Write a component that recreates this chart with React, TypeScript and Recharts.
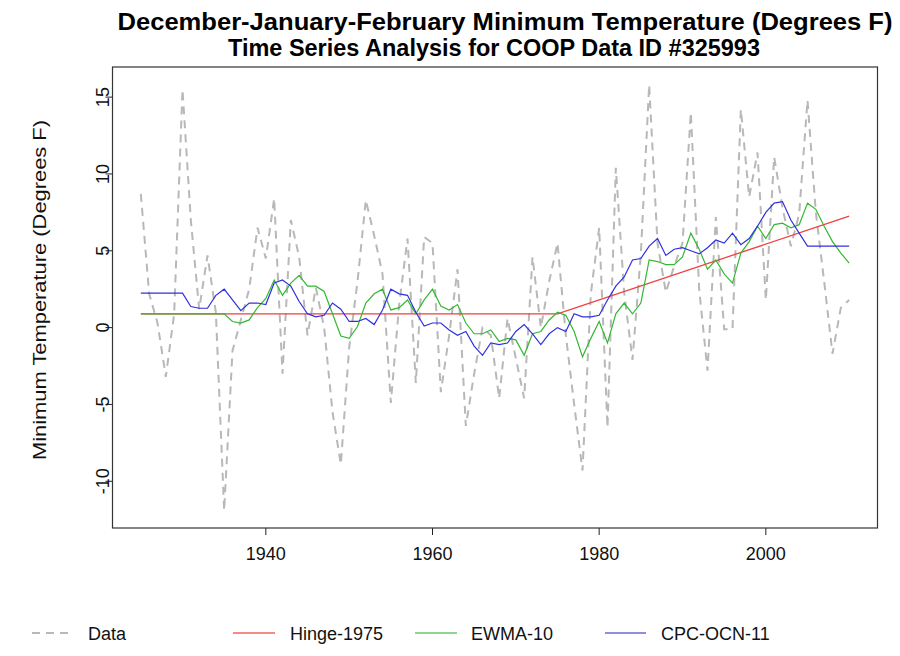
import React from 'react';
import { LineChart, Line, XAxis, YAxis } from 'recharts';

// winter (DJF) minimum temperature, COOP station 325993
const years = [
  1925, 1926, 1927, 1928, 1929, 1930, 1931, 1932, 1933, 1934,
  1935, 1936, 1937, 1938, 1939, 1940, 1941, 1942, 1943, 1944,
  1945, 1946, 1947, 1948, 1949, 1950, 1951, 1952, 1953, 1954,
  1955, 1956, 1957, 1958, 1959, 1960, 1961, 1962, 1963, 1964,
  1965, 1966, 1967, 1968, 1969, 1970, 1971, 1972, 1973, 1974,
  1975, 1976, 1977, 1978, 1979, 1980, 1981, 1982, 1983, 1984,
  1985, 1986, 1987, 1988, 1989, 1990, 1991, 1992, 1993, 1994,
  1995, 1996, 1997, 1998, 1999, 2000, 2001, 2002, 2003, 2004,
  2005, 2006, 2007, 2008, 2009, 2010,
];

const observed = [
  8.7, 2.2, 0.3, -3.2, 0.9, 15.5, 7.0, 1.2, 4.7, 1.0,
  -11.9, -1.5, 0.5, 2.5, 6.5, 4.5, 8.4, -3.0, 7.0, 4.6,
  -0.5, 2.6, 0.0, -5.5, -8.9, -1.3, 3.0, 8.3, 6.0, 3.5,
  -4.9, 1.5, 5.8, -3.6, 5.9, 5.5, -4.2, -0.5, 3.8, -6.4,
  -3.0, 0.0, -0.5, -4.6, 0.6, -2.0, -4.6, 4.6, 0.0, 3.0,
  5.5, -0.5, -5.0, -9.3, 2.2, 6.5, -6.5, 10.4, 2.3, -2.1,
  4.8, 15.8, 5.5, 2.3, 4.0, 5.5, 14.0, 2.5, -2.8, 7.2,
  -0.1, -0.1, 14.2, 8.5, 11.4, 1.8, 11.1, 7.8, 5.3, 7.4,
  14.8, 7.5, 3.0, -1.7, 1.3, 1.8,
];

const ewma10 = [
  0.9, 0.9, 0.9, 0.9, 0.9, 0.9, 0.9, 0.9, 0.9, 0.9,
  0.9, 0.4, 0.3, 0.5, 1.3, 1.9, 3.1, 2.1, 2.9, 3.4,
  2.7, 2.7, 2.35, 0.9, -0.55, -0.7, 0.07, 1.6, 2.2, 2.5,
  1.15, 1.3, 1.8, 0.9, 1.8, 2.5, 1.4, 1.15, 1.5, 0.3,
  -0.4, -0.4, -0.15, -0.9, -0.7, -0.8, -1.8, -0.4, -0.25, 0.5,
  1.0, 0.8, -0.25, -1.9, -0.7, 0.4, -1.0, 0.9, 1.6, 0.9,
  1.6, 4.4, 4.3, 4.1, 4.1, 4.6, 6.15, 5.1, 3.8, 4.4,
  3.5, 2.9, 4.85, 5.6, 6.6, 5.8, 6.7, 6.8, 6.5, 6.7,
  8.1, 7.7, 6.6, 5.6, 4.85, 4.2,
];

const ocn11 = [
  2.24, 2.24, 2.24, 2.24, 2.24, 2.24, 1.37, 1.26, 1.26, 2.1,
  2.5, 1.8, 1.1, 1.6, 1.6, 1.5, 2.9, 3.1, 2.7, 1.7,
  0.9, 0.7, 0.8, 1.6, 1.2, 0.4, 0.4, 0.6, 0.2, 1.15,
  2.5, 2.2, 2.1, 1.0, 0.1, 0.3, 0.3, -0.15, -0.5, -0.25,
  -1.2, -1.8, -1.0, -1.1, -1.0, -0.25, 0.2, -0.4, -1.1, -0.4,
  0.0, -0.25, 0.9, 0.7, 0.7, 0.8, 1.8, 2.7, 3.3, 4.4,
  4.5, 5.3, 5.8, 4.7, 5.1, 5.2, 5.0, 4.8, 5.2, 5.7,
  5.5, 6.15, 5.4, 5.8, 6.6, 7.5, 8.1, 8.2, 7.0, 6.15,
  5.3, 5.3, 5.3, 5.3, 5.3, 5.3,
];

// hinge fit: flat until 1975, then a straight trend
const hingeYears = [1925, 1975, 2010];
const hingeValues = [0.9, 0.9, 7.25];

const xTicks = [1940, 1960, 1980, 2000];
const yTicks = [-10, -5, 0, 5, 10, 15];

const chartData = years.map((year, i) => {
  const h = hingeYears.indexOf(year);
  return {
    year,
    data: observed[i],
    ewma: ewma10[i],
    ocn: ocn11[i],
    hinge: h >= 0 ? hingeValues[h] : null,
  };
});

const FONT = '"Liberation Sans", Arial, Helvetica, sans-serif';
const LABEL_SIZE = 18;

const BOX = { left: 112.5, right: 877.5, top: 67, bottom: 528 };

const XTick = ({ x, payload }: any) => (
  <g>
    <line x1={x} x2={x} y1={BOX.bottom} y2={BOX.bottom + 7} stroke="#222" />
    <text x={x} y={560} textAnchor="middle" fontSize={LABEL_SIZE} fontFamily={FONT} fill="#111">
      {payload.value}
    </text>
  </g>
);

const YTick = ({ y, payload }: any) => (
  <g>
    <line x1={BOX.left - 7} x2={BOX.left} y1={y} y2={y} stroke="#222" />
    <text
      x={0}
      y={0}
      transform={`translate(109, ${y}) rotate(-90)`}
      textAnchor="middle"
      fontSize={LABEL_SIZE}
      fontFamily={FONT}
      fill="#111"
    >
      {payload.value}
    </text>
  </g>
);

const legendItems = [
  { label: 'Data', color: '#b8b8b8', dash: '8 6', x1: 32, x2: 68, tx: 88 },
  { label: 'Hinge-1975', color: '#f28a8a', dash: undefined, x1: 233, x2: 275, tx: 290 },
  { label: 'EWMA-10', color: '#8fd68f', dash: undefined, x1: 415, x2: 457, tx: 471 },
  { label: 'CPC-OCN-11', color: '#8f8fe0', dash: undefined, x1: 605, x2: 646, tx: 661 },
];

export default function App() {
  return (
    <div style={{ position: 'absolute', left: 0, top: 0, width: 900, height: 656, background: '#fff' }}>
      <LineChart
        width={900}
        height={656}
        data={chartData}
        margin={{ top: BOX.top, right: 900 - BOX.right, bottom: 656 - BOX.bottom - 30, left: BOX.left - 60 }}
      >
        <XAxis
          dataKey="year"
          type="number"
          domain={[1921.6, 2013.4]}
          ticks={xTicks}
          allowDataOverflow
          axisLine={false}
          tickLine={false}
          height={30}
          tick={<XTick />}
        />
        <YAxis
          type="number"
          domain={[-13.04, 16.96]}
          ticks={yTicks}
          allowDataOverflow
          axisLine={false}
          tickLine={false}
          width={60}
          tick={<YTick />}
        />
        <Line
          dataKey="data"
          stroke="#b8b8b8"
          strokeWidth={2}
          strokeDasharray="8 6"
          dot={false}
          isAnimationActive={false}
        />
        <Line
          dataKey="hinge"
          stroke="#f04040"
          strokeWidth={1.3}
          dot={false}
          connectNulls
          isAnimationActive={false}
        />
        <Line dataKey="ewma" stroke="#33b833" strokeWidth={1.2} dot={false} isAnimationActive={false} />
        <Line dataKey="ocn" stroke="#3030e0" strokeWidth={1.2} dot={false} isAnimationActive={false} />
      </LineChart>
      <svg
        width={900}
        height={656}
        style={{ position: 'absolute', left: 0, top: 0, pointerEvents: 'none' }}
        fontFamily={FONT}
      >
        <rect
          x={BOX.left}
          y={BOX.top}
          width={BOX.right - BOX.left}
          height={BOX.bottom - BOX.top}
          fill="none"
          stroke="#333"
          strokeWidth={1.2}
        />
        <text x={505} y={30} textAnchor="middle" fontSize={23} fontWeight="bold" textLength={775} lengthAdjust="spacingAndGlyphs">
          December-January-February Minimum Temperature (Degrees F)
        </text>
        <text x={494} y={56} textAnchor="middle" fontSize={23} fontWeight="bold" textLength={532} lengthAdjust="spacingAndGlyphs">
          Time Series Analysis for COOP Data ID #325993
        </text>
        <text
          x={0}
          y={0}
          transform="translate(46, 290) rotate(-90)"
          textAnchor="middle"
          fontSize={LABEL_SIZE}
          fill="#111"
          textLength={340}
          lengthAdjust="spacingAndGlyphs"
        >
          Minimum Temperature (Degrees F)
        </text>
        {legendItems.map((item) => (
          <g key={item.label}>
            <line
              x1={item.x1}
              x2={item.x2}
              y1={633}
              y2={633}
              stroke={item.color}
              strokeWidth={2}
              strokeDasharray={item.dash}
            />
            <text x={item.tx} y={639.5} fontSize={LABEL_SIZE} fill="#111">
              {item.label}
            </text>
          </g>
        ))}
      </svg>
    </div>
  );
}
